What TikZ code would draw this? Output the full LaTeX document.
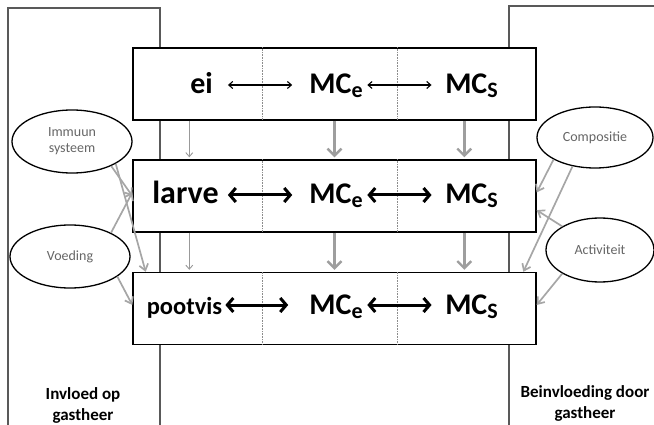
\documentclass[tikz,border=0pt]{standalone}
\usepackage{fontspec}
\setmainfont{Carlito}
\usetikzlibrary{positioning, arrows.meta, calc, shapes.geometric}

\newcommand{\mcsub}[1]{MC\raisebox{-4pt}{\fontsize{22}{22}\selectfont #1}}

\begin{document}
\begin{tikzpicture}[x=1pt, y=-1pt,
  rowbox/.style={draw, line width=1.4pt, fill=white, minimum width=403pt, minimum height=72pt, inner sep=0pt},
  divider/.style={densely dotted, black!45, line width=0.6pt},
  panel/.style={black!65, line width=1.3pt},
  factor/.style={ellipse, draw, line width=1.3pt, fill=white, inner sep=0pt, text=black!60, font=\fontsize{14}{16}\selectfont, align=center},
  stage/.style={inner sep=0pt, anchor=base, text height=18pt, text depth=0pt, font=\bfseries\fontsize{30}{32}\selectfont},
  caption/.style={align=center, font=\bfseries\fontsize{17}{21}\selectfont},
  swapthin/.style={{Straight Barb[length=4pt,width=7pt]}-{Straight Barb[length=4pt,width=7pt]}, line width=1.1pt},
  swapbold/.style={{Straight Barb[length=6pt,width=14pt]}-{Straight Barb[length=6pt,width=14pt]}, line width=3pt},
  growthin/.style={-{Straight Barb[length=4pt,width=7pt]}, black!40, line width=0.9pt, shorten >=2pt},
  growbold/.style={-{Straight Barb[length=7pt,width=14pt]}, black!38, line width=2.4pt, shorten >=2pt},
  effect/.style={-{Straight Barb[length=6pt,width=9pt]}, black!35, line width=1.7pt}
]
\useasboundingbox (0,0) rectangle (654,425);

% panels host
\draw[panel] (8,425) -- (8,8) -- (160,8) -- (160,425);
\draw[panel] (509,425) -- (509,6) -- (654,6);

% life stages
\node[rowbox] (row1) at (334.5,84) {};
\node[rowbox] (row2) at (334.5,196) {};
\node[rowbox] (row3) at (334.5,308.5) {};
\foreach \r in {1,2,3} {
  \draw[divider] ($(row\r.north west)!0.3226!(row\r.north east)$) -- ($(row\r.south west)!0.3226!(row\r.south east)$);
  \draw[divider] ($(row\r.north west)!0.655!(row\r.north east)$) -- ($(row\r.south west)!0.655!(row\r.south east)$);
}

\node[stage] (ei) at (201.5,94) {ei};
\node[stage] (mce1) at (336,94) {\mcsub{e}};
\node[stage] (mcs1) at (471.5,94) {\mcsub{S}};
\node[stage, font=\bfseries\fontsize{32}{34}\selectfont] (larve) at (185.5,204) {larve};
\node[stage] (mce2) at (336,204) {\mcsub{e}};
\node[stage] (mcs2) at (471.5,204) {\mcsub{S}};
\node[stage, font=\bfseries\fontsize{24.5}{26}\selectfont] (pootvis) at (184.5,314) {pootvis};
\node[stage] (mce3) at (336,314) {\mcsub{e}};
\node[stage] (mcs3) at (471.5,314) {\mcsub{S}};

\draw[swapthin, shorten <=15pt, shorten >=17pt] (ei) -- (mce1);
\draw[swapthin, shorten <=4.5pt, shorten >=13.5pt] (mce1) -- (mcs1);
\draw[swapbold, shorten <=9pt, shorten >=17pt] (larve) -- (mce2);
\draw[swapbold, shorten <=4.5pt, shorten >=13.5pt] (mce2) -- (mcs2);
\draw[swapbold, shorten <=3pt, shorten >=21pt] (pootvis) -- (mce3);
\draw[swapbold, shorten <=4.5pt, shorten >=13.5pt] (mce3) -- (mcs3);

% development
\foreach \a/\b in {row1/row2, row2/row3} {
  \draw[growthin] ($(\a.south west)!0.141!(\a.south east)$) -- ($(\b.north west)!0.141!(\b.north east)$);
  \draw[growbold] (\a.south) -- (\b.north);
  \draw[growbold] ($(\a.south west)!0.821!(\a.south east)$) -- ($(\b.north west)!0.821!(\b.north east)$);
}

% factors
\node[factor, minimum width=120pt, minimum height=63pt] (immuun) at (72,141.5) {Immuun\\systeem};
\node[factor, minimum width=120pt, minimum height=63pt] (voeding) at (70,256.5) {Voeding};
\node[factor, minimum width=116pt, minimum height=61pt] (compositie) at (595,137.5) {Compositie};
\node[factor, minimum width=108pt, minimum height=64pt] (activiteit) at (600,250) {Activiteit};

\draw[effect] (immuun.-32) -- (row2.180);
\draw[effect] (immuun.-27) -- (row3.169.3);
\draw[effect] (voeding.30) -- (row2.179);
\draw[effect] (voeding.-23) -- (row3.179);
\draw[effect] (compositie.208) -- (row2.1);
\draw[effect] (compositie.232) -- (row3.11);
\draw[effect] (activiteit.148) -- (row2.-4.5);
\draw[effect] (activiteit.212) -- (row3.1.5);

\node[caption] (invloed) at (83,405) {Invloed op\\gastheer};
\node[caption] (beinvloeding) at (585,403) {Beinvloeding door\\gastheer};
\end{tikzpicture}
\end{document}
